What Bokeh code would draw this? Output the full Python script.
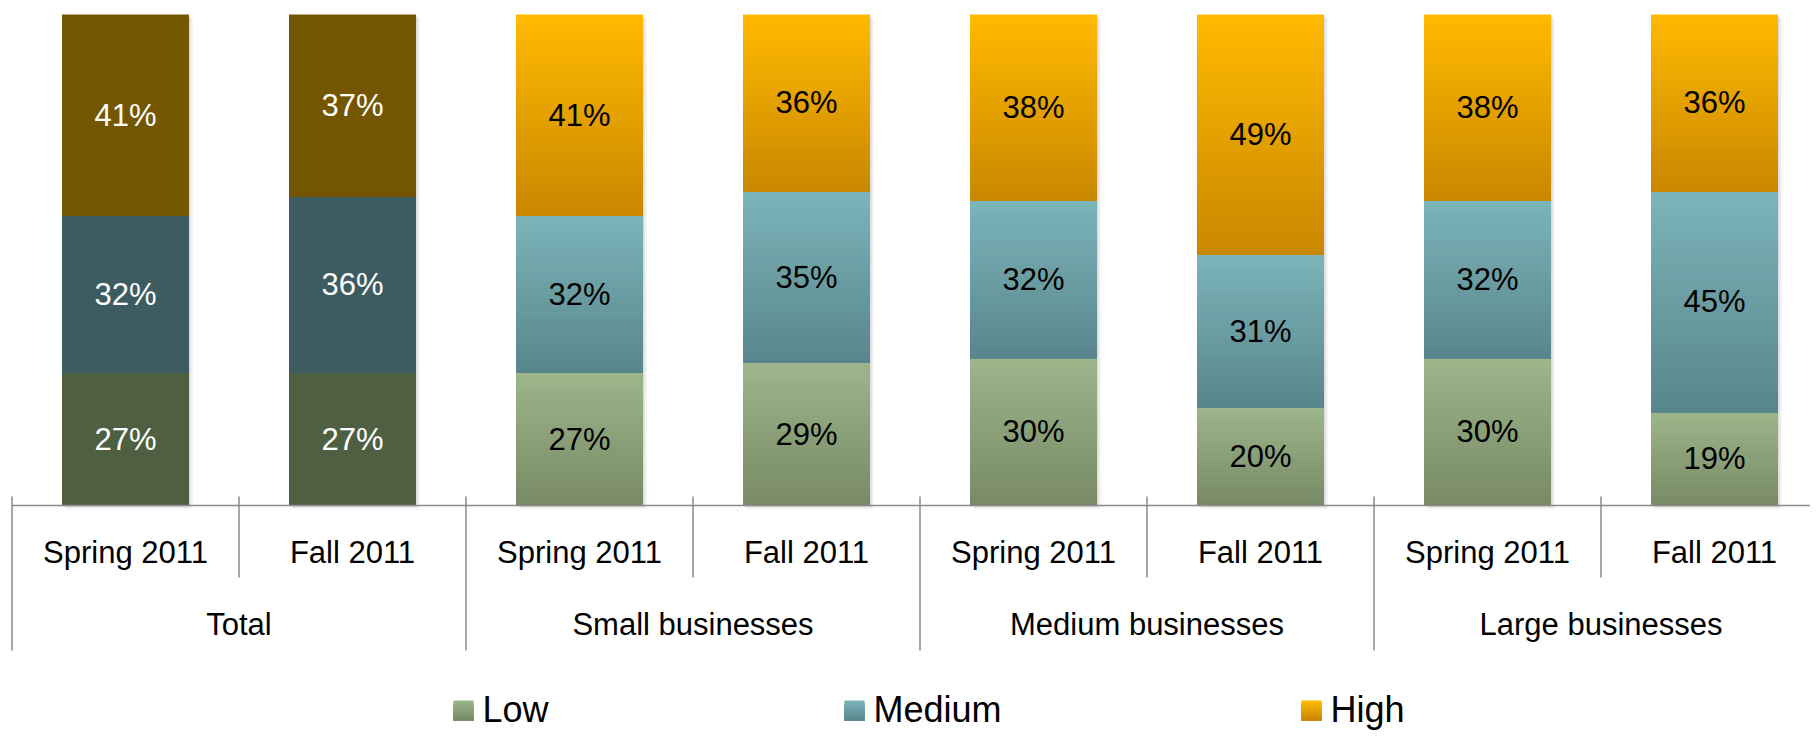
import numpy as np
from bokeh.plotting import figure
from bokeh.models import Range1d, ColumnDataSource
from bokeh.core.properties import value
from bokeh.embed import file_html
from bokeh.resources import INLINE

# ---------------- data ----------------
groups = ["Total", "Small businesses", "Medium businesses", "Large businesses"]
periods = ["Spring 2011", "Fall 2011"]
series = ["Low", "Medium", "High"]
low = [27, 27, 27, 29, 30, 20, 30, 19]
medium = [32, 36, 32, 35, 32, 31, 32, 45]
high = [41, 37, 41, 36, 38, 49, 38, 36]

# ---------------- styling / layout constants ----------------
FONT = value("Liberation Sans")
W, H = 1810, 731
FIG_LEFT, FIG_TOP = 0, 0
SLOT_PX = 227.0
X0_PX = 11.5
Y100_PX, Y0_PX = 14.0, 505.0
PX_PER_PCT = (Y0_PX - Y100_PX) / 100.0
BAR_W = 127.0 / SLOT_PX

GRAD = {
    "Low": ("#9CB58A", "#788A66"),
    "Medium": ("#7BB4B9", "#59868C"),
    "High": ("#FFB900", "#C98800"),
}
TOTAL_COL = {"Low": "#4F6042", "Medium": "#3C5C61", "High": "#745600"}
AXIS_COL = "#8A8A8A"


def xd(px):
    return (px - X0_PX) / SLOT_PX


def yd(py):
    return (Y0_PX - py) / PX_PER_PCT


def hex2rgb(h):
    h = h.lstrip("#")
    return np.array([int(h[i:i + 2], 16) for i in (0, 2, 4)], dtype=float)


def rgb2hex(c):
    return "#%02x%02x%02x" % tuple(int(round(v)) for v in c)


def strips(lefts, rights, bottoms, tops, col_pairs, n=40):
    L, R, B, T, C = [], [], [], [], []
    for l, r, b, t, (ct, cb) in zip(lefts, rights, bottoms, tops, col_pairs):
        a, z = hex2rgb(ct), hex2rgb(cb)
        for i in range(n):
            f = i / (n - 1)
            L.append(l); R.append(r); B.append(b)
            T.append(b + (t - b) * (n - i) / n)
            C.append(rgb2hex(a + (z - a) * f))
    return dict(left=L, right=R, bottom=B, top=T, color=C)


p = figure(width=W, height=H, output_backend="svg", toolbar_location=None,
           x_range=Range1d(xd(FIG_LEFT), xd(FIG_LEFT + W)),
           y_range=Range1d(yd(FIG_TOP + H), yd(FIG_TOP)),
           x_axis_type=None, y_axis_type=None,
           min_border=0, min_border_left=0, min_border_right=0,
           min_border_top=0, min_border_bottom=0)
p.outline_line_color = None
p.xgrid.visible = False
p.ygrid.visible = False
p.background_fill_color = "white"
p.border_fill_color = "white"

n_bars = len(low)
xs = np.arange(n_bars) + 0.5
lefts = xs - BAR_W / 2
rights = xs + BAR_W / 2
totals = np.array(low, float) + np.array(medium, float) + np.array(high, float)

# soft drop shadow behind the bars
for off, alpha in ((4.0, 0.035), (2.5, 0.05), (1.2, 0.06)):
    p.quad(left=lefts + off / SLOT_PX, right=rights + off / SLOT_PX,
           bottom=[-off / PX_PER_PCT] * n_bars, top=totals - off / PX_PER_PCT,
           fill_color="#000000", fill_alpha=alpha, line_color=None)

vals = {"Low": np.array(low, float), "Medium": np.array(medium, float), "High": np.array(high, float)}
bottom = np.zeros(n_bars)
label_x, label_y, label_t, label_c = [], [], [], []
for s in series:
    v = vals[s]
    top = bottom + v
    pairs = []
    for i in range(n_bars):
        if i < 2:
            pairs.append((TOTAL_COL[s], TOTAL_COL[s]))
        else:
            pairs.append(GRAD[s])
    src = ColumnDataSource(strips(lefts, rights, bottom, top, pairs))
    p.quad(left="left", right="right", bottom="bottom", top="top", source=src,
           fill_color="color", line_color=None)
    for i in range(n_bars):
        label_x.append(xs[i])
        label_y.append((bottom[i] + top[i]) / 2)
        label_t.append("%d%%" % v[i])
        label_c.append("#FFFFFF" if i < 2 else "#000000")
    bottom = top

p.text(x="x", y="y", text="t", text_color="c",
       source=ColumnDataSource(dict(x=label_x, y=label_y, t=label_t, c=label_c)),
       text_font=FONT, text_font_size="31px", text_align="center", text_baseline="middle")

# ---------------- category axis ----------------
p.segment(x0=[0], y0=[0], x1=[xd(1840)], y1=[0], line_color=AXIS_COL, line_width=1.5)
bx = list(range(n_bars + 1))
by1 = [yd(650) if i % 2 == 0 else yd(577) for i in bx]
p.segment(x0=bx, y0=[yd(496)] * len(bx), x1=bx, y1=by1, line_color=AXIS_COL, line_width=1.5)

sub_labels = [periods[i % 2] for i in range(n_bars)]
p.text(x=list(xs), y=[yd(552)] * n_bars, text=sub_labels, text_font=FONT,
       text_font_size="31px", text_align="center", text_baseline="middle", text_color="#000000")
p.text(x=[2 * g + 1.0 for g in range(len(groups))], y=[yd(624)] * len(groups), text=groups,
       text_font=FONT, text_font_size="31px", text_align="center", text_baseline="middle",
       text_color="#000000")

# ---------------- legend ----------------
LEG_X_PX = [453, 844, 1301]
LEG_SQ = 20
LEG_CY = 710
leg_pairs = [GRAD[s] for s in series]
lsq = strips([xd(px) for px in LEG_X_PX], [xd(px + LEG_SQ) for px in LEG_X_PX],
             [yd(LEG_CY + LEG_SQ / 2)] * 3, [yd(LEG_CY - LEG_SQ / 2)] * 3, leg_pairs, n=12)
p.quad(left="left", right="right", bottom="bottom", top="top",
       source=ColumnDataSource(lsq), fill_color="color", line_color=None)
p.text(x=[xd(px + LEG_SQ + 9) for px in LEG_X_PX], y=[yd(LEG_CY - 1)] * 3, text=series,
       text_font=FONT, text_font_size="36px", text_align="left", text_baseline="middle",
       text_color="#000000")

open("out.html", "w").write(file_html(p, INLINE))
